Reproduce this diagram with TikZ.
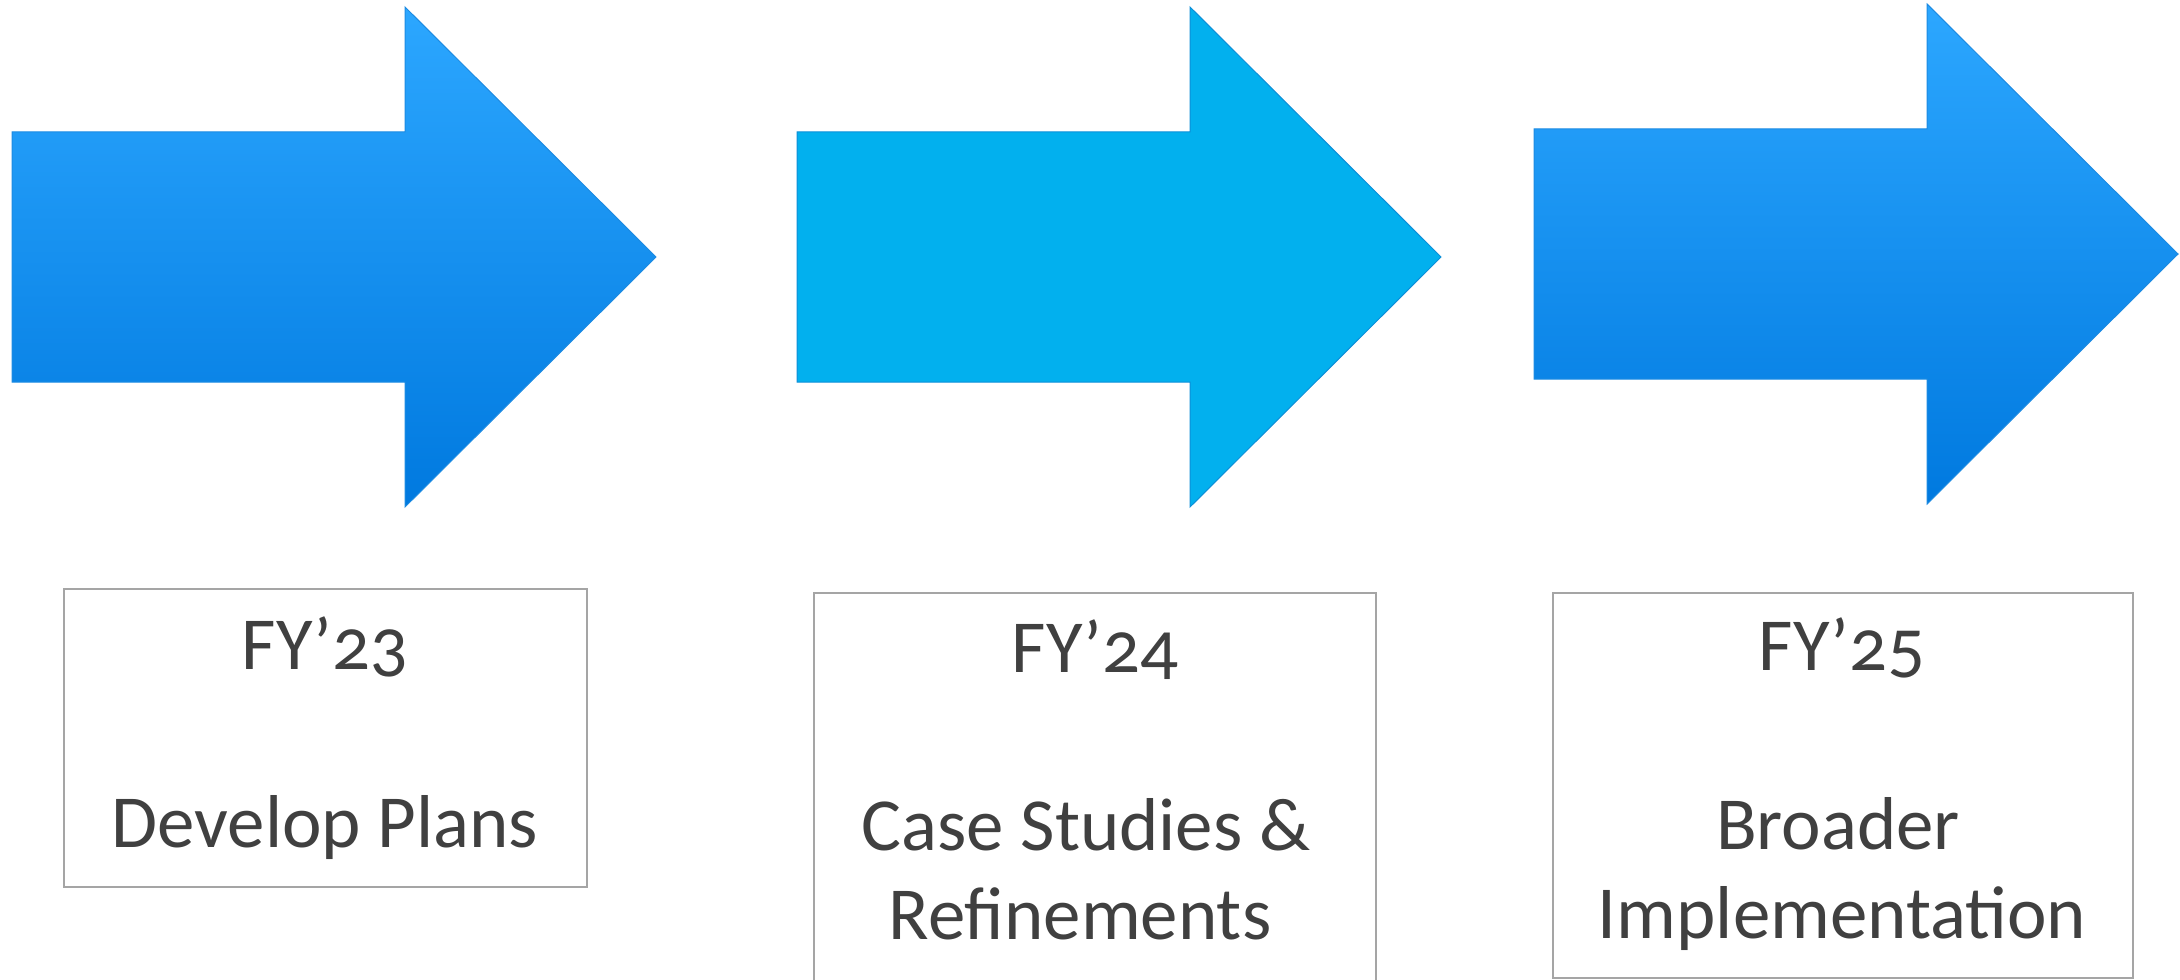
\documentclass[tikz,border=0pt]{standalone}
\usepackage{fontspec}
\setmainfont{Carlito}[Numbers=OldStyle]
\usepackage{tikz}
\usetikzlibrary{calc}
\definecolor{arrowtop}{HTML}{2CA7FF}
\definecolor{arrowmid}{HTML}{0896FF}
\definecolor{arrowbot}{HTML}{0079DF}
\definecolor{arrowedge}{HTML}{1D8BE2}
\definecolor{arrowcyan}{HTML}{02B0EE}
\definecolor{cyanedge}{HTML}{0D8FD8}
\definecolor{boxgray}{HTML}{A5A5A5}
\definecolor{textgray}{HTML}{404040}
\tikzset{
  stagearrow/.pic={
      \path[pic actions] (0,-125) -- (393,-125) -- (393,-250) -- (644,0)
        -- (393,250) -- (393,125) -- (0,125) -- cycle;
    },
  gradarrow/.style={top color=arrowtop, middle color=arrowmid,
      bottom color=arrowbot, draw=arrowedge, line width=0.01cm},
  flatarrow/.style={fill=arrowcyan, draw=cyanedge, line width=0.01cm},
  stagebox/.style={draw=boxgray, line width=0.02cm, inner sep=0pt},
  stagetext/.style={text=textgray, font=\fontsize{21.3}{25.3}\selectfont,
      anchor=base, inner sep=0pt},
}
\begin{document}
\begin{tikzpicture}[x=0.01cm, y=-0.01cm]
      \useasboundingbox (0,0) rectangle (2180,979);
      \clip (0,0) rectangle (2180,979);

      \pic[gradarrow] at (12,257) {stagearrow};
      \pic[flatarrow] at (797,257) {stagearrow};
      \pic[gradarrow] at (1534,254) {stagearrow};

      \node [stagebox, minimum width=5.23cm, minimum height=2.98cm] (box1) at (325.5,738) {};
      \node [stagebox, minimum width=5.62cm, minimum height=4.07cm] (box2) at (1095,796.5) {};
      \node [stagebox, minimum width=5.80cm, minimum height=3.85cm] (box3) at (1843,785.5) {};

      \node [stagetext] (yr1) at (325,669) {FY’23};
      \node [stagetext] (plan1) at (325,847) {Develop Plans};

      \node [stagetext] (yr2) at (1095,672) {FY’24};
      \node [stagetext] (case2) at (1086,850) {Case Studies \&};
      \node [stagetext] (refine2) at (1080,939) {Refinements};

      \node [stagetext] (yr3) at (1842,670) {FY’25};
      \node [stagetext] (broad3) at (1838,849) {Broader};
      \node [stagetext] (impl3) at (1842,938) {Implementation};
\end{tikzpicture}
\end{document}
